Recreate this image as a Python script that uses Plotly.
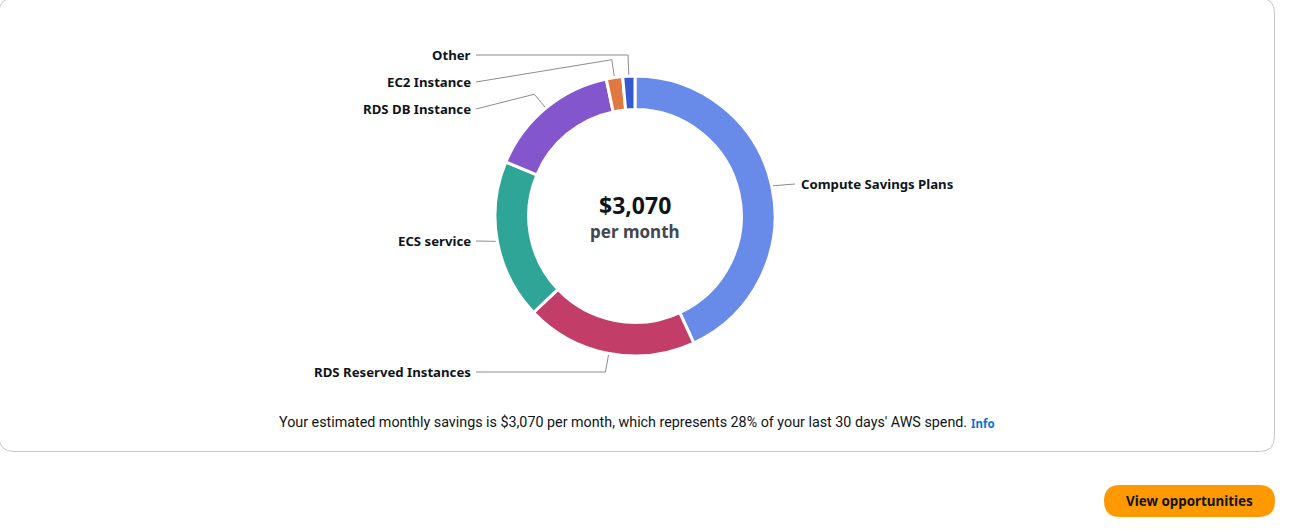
import math
import plotly.graph_objects as go

# ---------------- data ----------------
categories = ["Compute Savings Plans", "RDS Reserved Instances", "ECS service",
              "RDS DB Instance", "EC2 Instance", "Other"]
savings = [1323, 608, 565, 473, 58, 43]
colors = ["#688ae8", "#c33d69", "#2ea597", "#8456ce", "#e07941", "#3759ce"]
total_text = "$3,070"
total_sub = "per month"
summary = "Your estimated monthly savings is $3,070 per month, which represents 28% of your last 30 days' AWS spend."

# ---------------- layout constants (pixels) ----------------
W, H = 1297, 529
CX, CY, R = 635, 216, 140
HOLE = 0.76
ELBOW_R = 158
LEFT_X, RIGHT_X = 476, 795
label_y = [184, 372, 241, 109, 82, 55]
FONT = "Noto Sans"
TEXT = "#0f141a"

fig = go.Figure()

fig.add_trace(go.Pie(
    labels=categories, values=savings, sort=False, direction="clockwise",
    rotation=0, hole=HOLE, textinfo="none", hoverinfo="label+value",
    marker=dict(colors=colors, line=dict(color="white", width=3)),
    domain=dict(x=[(CX - R) / W, (CX + R) / W], y=[1 - (CY + R) / H, 1 - (CY - R) / H]),
    showlegend=False,
))

# leader lines + labels, derived from slice angles
tot = sum(savings)
cum = 0
for i, (name, v) in enumerate(zip(categories, savings)):
    mid = (cum + v / 2) / tot * 2 * math.pi
    cum += v
    sx, sy = CX + R * math.sin(mid), CY - R * math.cos(mid)
    ex, ey = CX + ELBOW_R * math.sin(mid), CY - ELBOW_R * math.cos(mid)
    right = math.sin(mid) > 0
    lx = RIGHT_X if right else LEFT_X
    ly = label_y[i]
    if abs(ey - ly) < 4:
        ey = ly
    fig.add_trace(go.Scatter(x=[sx, ex, lx], y=[sy, ey, ly], mode="lines",
                             line=dict(color="#8c8c94", width=1),
                             hoverinfo="skip", showlegend=False))
    fig.add_annotation(x=lx + (3.5 if right else -3), y=ly, text=f"<b>{name}</b>", showarrow=False,
                       xanchor="left" if right else "right", yanchor="middle",
                       font=dict(family=FONT, size=13.2, color=TEXT))

# centre text
fig.add_annotation(x=CX, y=205, text=f"<b>{total_text}</b>", showarrow=False,
                   font=dict(family=FONT, size=23, color=TEXT), yanchor="middle")
fig.add_annotation(x=CX, y=231, text=f"<b>{total_sub}</b>", showarrow=False,
                   font=dict(family=FONT, size=17, color="#424650"), yanchor="middle")

# summary text
fig.add_annotation(x=969, y=422, text=summary, showarrow=False, xanchor="right", yanchor="middle",
                   font=dict(family="Roboto", size=14.3, color=TEXT))
fig.add_annotation(x=969, y=423, text="<b>Info</b>", showarrow=False, xanchor="left", yanchor="middle",
                   font=dict(family=FONT, size=11.5, color="#0972d3"))

# card border (rounded rect)
x0, y0, x1, y1, r = -1, -2, 1274.5, 451.5, 15
card = (f"M{x0 + r},{y0} L{x1 - r},{y0} Q{x1},{y0} {x1},{y0 + r} L{x1},{y1 - r} Q{x1},{y1} {x1 - r},{y1} "
        f"L{x0 + r},{y1} Q{x0},{y1} {x0},{y1 - r} L{x0},{y0 + r} Q{x0},{y0} {x0 + r},{y0} Z")
fig.add_shape(type="path", path=card, xref="x", yref="y", line=dict(color="#c6c6cd", width=1),
              fillcolor="rgba(0,0,0,0)", layer="below")

# button
bx0, by0, bx1, by1 = 1104, 485, 1275, 517
br = (by1 - by0) / 2
btn = (f"M{bx0 + br},{by0} L{bx1 - br},{by0} Q{bx1},{by0} {bx1},{(by0 + by1) / 2} Q{bx1},{by1} {bx1 - br},{by1} "
       f"L{bx0 + br},{by1} Q{bx0},{by1} {bx0},{(by0 + by1) / 2} Q{bx0},{by0} {bx0 + br},{by0} Z")
fig.add_shape(type="path", path=btn, xref="x", yref="y", line=dict(color="#ff9900", width=0),
              fillcolor="#ff9900")
fig.add_annotation(x=(bx0 + bx1) / 2, y=501, text="<b>View opportunities</b>", showarrow=False,
                   font=dict(family=FONT, size=13.4, color=TEXT), yanchor="middle")

fig.update_layout(
    width=W, height=H, margin=dict(l=0, r=0, t=0, b=0),
    paper_bgcolor="white", plot_bgcolor="rgba(0,0,0,0)",
    xaxis=dict(range=[0, W], visible=False, fixedrange=True),
    yaxis=dict(range=[H, 0], visible=False, fixedrange=True),
)

fig.write_html("out.html", config={"displayModeBar": False})
